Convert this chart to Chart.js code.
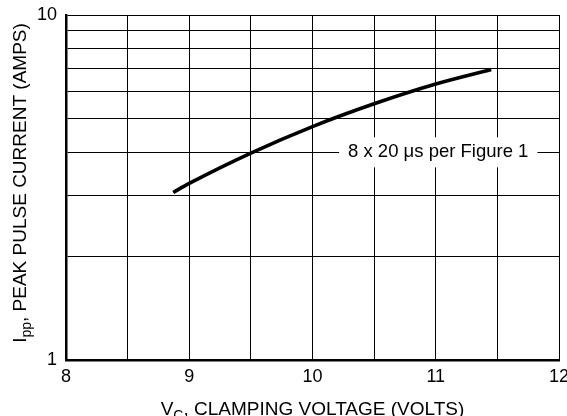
<!DOCTYPE html>
<html>
<head>
<meta charset="utf-8">
<script src="https://cdn.jsdelivr.net/npm/chart.js@4"></script>
<style>
  html, body { margin: 0; padding: 0; background: #ffffff; }
  #wrap { width: 567px; height: 416px; }
</style>
</head>
<body>
<div id="wrap"><canvas id="c" width="567" height="416"></canvas></div>
<script>
// ---- data ----
const clampVoltage = [8.87, 9.0, 9.5, 10.0, 10.5, 11.0, 11.45];
const peakCurrent  = [3.06, 3.25, 3.98, 4.75, 5.53, 6.31, 6.95];
const xTickLabels = ['8', '9', '10', '11', '12'];
const yTickLabels = ['1', '10'];
const xTitleParts = [['V', false], ['C', true], [', CLAMPING VOLTAGE (VOLTS)', false]];
const yTitleParts = [['I', false], ['pp', true], [', PEAK PULSE CURRENT (AMPS)', false]];
const annotationText = '8 x 20 \u03BCs per Figure 1';
const annotationX = 11.02;
const annotationY = 4.0;

const FONT = 'Liberation Sans, Arial, sans-serif';

function drawParts(ctx, parts, size) {
  let total = 0;
  const widths = parts.map(([t, sub]) => {
    ctx.font = (sub ? Math.round(size * 0.72) : size) + 'px ' + FONT;
    const w = ctx.measureText(t).width;
    total += w;
    return w;
  });
  let x = -total / 2;
  parts.forEach(([t, sub], i) => {
    ctx.font = (sub ? Math.round(size * 0.72) : size) + 'px ' + FONT;
    ctx.fillText(t, x, sub ? size * 0.28 : 0);
    x += widths[i];
  });
}

const overlay = {
  id: 'overlay',
  afterDatasetsDraw(chart) {
    const ctx = chart.ctx;
    const xs = chart.scales.x, ys = chart.scales.y;
    const cx = xs.getPixelForValue(annotationX);
    const cy = ys.getPixelForValue(annotationY);
    ctx.save();
    ctx.font = '18.5px ' + FONT;
    const w = ctx.measureText(annotationText).width;
    ctx.fillStyle = '#ffffff';
    ctx.fillRect(cx - w / 2 - 9, cy - 15, w + 18, 30);
    ctx.fillStyle = '#000000';
    ctx.textAlign = 'left';
    ctx.textBaseline = 'middle';
    ctx.fillText(annotationText, cx - w / 2, cy);
    ctx.restore();
  },
  afterDraw(chart) {
    const ctx = chart.ctx;
    const area = chart.chartArea;
    ctx.save();
    ctx.fillStyle = '#000000';
    ctx.textAlign = 'left';
    ctx.textBaseline = 'alphabetic';
    ctx.save();
    ctx.translate((area.left + area.right) / 2, 415);
    drawParts(ctx, xTitleParts, 19);
    ctx.restore();
    ctx.save();
    ctx.translate(26, 183);
    ctx.rotate(-Math.PI / 2);
    drawParts(ctx, yTitleParts, 19);
    ctx.restore();
    ctx.restore();
  }
};

new Chart(document.getElementById('c'), {
  type: 'line',
  data: {
    datasets: [{
      data: clampVoltage.map((v, i) => ({ x: v, y: peakCurrent[i] })),
      borderColor: '#000000',
      borderWidth: 3.5,
      pointRadius: 0,
      tension: 0.4,
      cubicInterpolationMode: 'monotone',
      fill: false
    }]
  },
  options: {
    responsive: false,
    animation: false,
    devicePixelRatio: 1,
    layout: { padding: { top: 15, right: 8, left: 0, bottom: 0 } },
    plugins: { legend: { display: false }, tooltip: { enabled: false } },
    scales: {
      x: {
        type: 'linear',
        min: 8, max: 12,
        afterFit(scale) {
          scale.height = 56;
          scale.paddingLeft = 0; scale.paddingRight = 0;
        },
        border: { display: true, color: '#000000', width: 2.5 },
        grid: { color: '#000000', lineWidth: 1, drawTicks: false },
        ticks: {
          stepSize: 0.5,
          autoSkip: false,
          maxRotation: 0,
          padding: 6,
          color: '#000000',
          font: { family: FONT, size: 18 },
          callback: (v) => {
            const s = String(v);
            return xTickLabels.includes(s) ? s : '';
          }
        }
      },
      y: {
        type: 'logarithmic',
        min: 1, max: 10,
        afterFit(scale) {
          scale.width = 66;
          scale.paddingTop = 0; scale.paddingBottom = 0;
        },
        afterBuildTicks(scale) {
          scale.ticks = [1,2,3,4,5,6,7,8,9,10].map(v => ({ value: v }));
        },
        border: { display: true, color: '#000000', width: 2.5 },
        grid: { color: '#000000', lineWidth: 1, drawTicks: false },
        ticks: {
          autoSkip: false,
          padding: 9,
          color: '#000000',
          font: { family: FONT, size: 18 },
          callback: (v) => {
            const s = String(v);
            return yTickLabels.includes(s) ? s : '';
          }
        }
      }
    }
  },
  plugins: [overlay]
});
</script>
</body>
</html>
